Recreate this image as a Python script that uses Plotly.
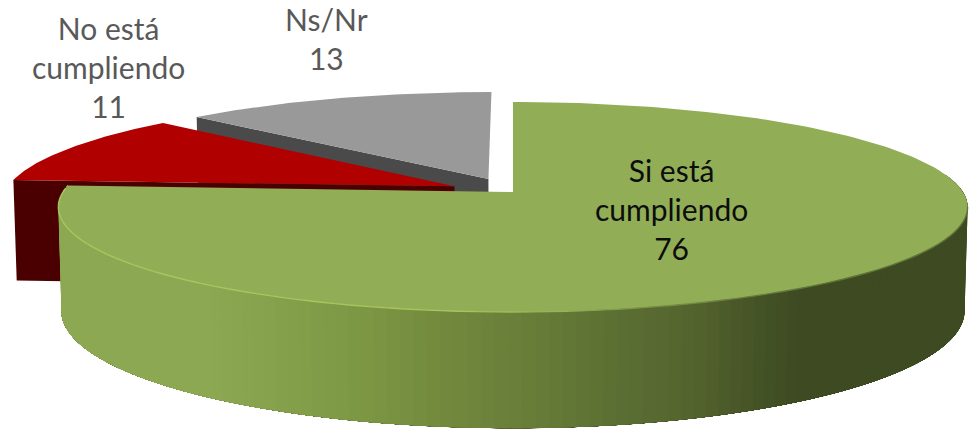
"""Pie 3D "cumpliendo": Plotly has no 3D pie, so the slices are drawn as filled
scatter polygons on hidden pixel axes, with the angles taken from the values."""

import numpy as np
import plotly.graph_objects as go

categories = ["Si está<br>cumpliendo", "No está<br>cumpliendo", "Ns/Nr"]
values = [76, 11, 13]

WIDTH, HEIGHT = 976, 432

# Perspective of the pie plane
CX = 513
CY_TOP, RY_TOP, RX_TOP = 192, 102.86, 450
CY_BOT, RY_BOT, RX_BOT = 294, 115, 447
PERSP = 1 / 7
EXPLODE = [0, 0.143, 0.14]

TOP_COLORS = ["#91AE57", "#B00000", "#999999"]
SIDE_COLORS = [None, "#4A0000", "#4A4A4A"]

# Wall gradient of the big slice: (x pixel, r, g, b)
WALL_STOPS = [
    (50, 141, 168, 82),
    (220, 141, 168, 82),
    (350, 127, 154, 70),
    (450, 115, 138, 62),
    (540, 104, 125, 56),
    (620, 92, 112, 52),
    (700, 84, 100, 46),
    (770, 68, 82, 38),
    (810, 62, 74, 34),
    (980, 62, 74, 34),
]
RIM_STOPS = [
    (50, 168, 198, 96),
    (450, 168, 198, 96),
    (560, 150, 180, 88),
    (640, 124, 148, 72),
    (800, 96, 116, 56),
    (980, 96, 116, 56),
]


def ring(deg, explode_deg, explode, bottom=False):
    """Pixel position of a rim point; deg runs clockwise from the top."""
    a = np.radians(deg)
    m = np.radians(explode_deg)
    u = np.sin(a) + explode * np.sin(m)
    v = np.cos(a) + explode * np.cos(m)
    s = 1 / (1 + PERSP * v)
    if bottom:
        return CX + RX_BOT * u * s, CY_BOT - RY_BOT * v * s
    return CX + RX_TOP * u * s, CY_TOP - RY_TOP * v * s


def ramp(stops, x):
    xs = [p[0] for p in stops]
    rgb = [int(np.interp(x, xs, [p[i] for p in stops])) for i in (1, 2, 3)]
    return "rgb(%d,%d,%d)" % tuple(rgb)


def polygon(fig, xs, ys, color):
    fig.add_trace(go.Scatter(
        x=xs, y=ys,
        mode="lines",
        fill="toself",
        fillcolor=color,
        line=dict(color=color, width=0),
        hoverinfo="skip",
        showlegend=False,
    ))


fig = go.Figure()

total = sum(values)
edges = np.cumsum([0] + values) / total * 360

# Exploded slices first (grey, then red), the big slice goes over them
for i in (2, 1):
    start, end = edges[i], edges[i + 1]
    mid = (start + end) / 2
    # tip is the pie centre pushed out along the slice middle
    a = np.radians(mid)
    u0, v0 = EXPLODE[i] * np.sin(a), EXPLODE[i] * np.cos(a)
    s0 = 1 / (1 + PERSP * v0)
    tip_x, tip_y = CX + RX_TOP * u0 * s0, CY_TOP - RY_TOP * v0 * s0
    tip_bx, tip_by = CX + RX_BOT * u0 * s0, CY_BOT - RY_BOT * v0 * s0

    # cut face seen by the camera
    ox, oy = ring(start, mid, EXPLODE[i])
    bx, by = ring(start, mid, EXPLODE[i], bottom=True)
    polygon(fig, [tip_x, ox, bx, tip_bx, tip_x], [tip_y, oy, by, tip_by, tip_y], SIDE_COLORS[i])

    # top face
    arc = np.linspace(start, end, 60)
    px, py = ring(arc, mid, EXPLODE[i])
    polygon(fig, [tip_x, *px, tip_x], [tip_y, *py, tip_y], TOP_COLORS[i])

# Big slice: wall in bands painted over each other (right to left side),
# each band reaches to the wall end so no seams show between them
green_end = edges[1]
bands = np.arange(80, green_end, 1.5)
for d0 in bands:
    arc = np.linspace(d0, green_end, 40)
    x0, y0 = ring(arc, 0, 0)
    x1, y1 = ring(arc[::-1], 0, 0, bottom=True)
    polygon(fig, [*x0, *x1, x0[0]], [*y0, *y1, y0[0]], ramp(WALL_STOPS, x0[0]))

# Big slice: top face
arc = np.linspace(edges[0], green_end, 200)
px, py = ring(arc, 0, 0)
polygon(fig, [CX, *px, CX], [CY_TOP, *py, CY_TOP], TOP_COLORS[0])

# Bevel along the front edge of the top face
rim = np.arange(98, green_end + 0.01, 2)
for d0, d1 in zip(rim[:-1], rim[1:]):
    xs, ys = ring(np.array([d0, d1]), 0, 0)
    fig.add_trace(go.Scatter(
        x=xs, y=ys,
        mode="lines",
        line=dict(color=ramp(RIM_STOPS, xs.mean()), width=1.4),
        hoverinfo="skip",
        showlegend=False,
    ))

# Labels
label_pos = [(671, 209), (108, 67), (326, 38)]
label_colors = ["#0D0D0D", "#595959", "#595959"]
for name, val, (lx, ly), col in zip(categories, values, label_pos, label_colors):
    fig.add_annotation(
        x=lx, y=ly,
        text=f"{name}<br>{val}",
        showarrow=False,
        xanchor="center", yanchor="middle",
        font=dict(family="Lato", size=30, color=col),
    )

fig.update_layout(
    width=WIDTH,
    height=HEIGHT,
    margin=dict(l=0, r=0, t=0, b=0),
    paper_bgcolor="white",
    plot_bgcolor="white",
    showlegend=False,
    xaxis=dict(range=[0, WIDTH], visible=False, fixedrange=True),
    yaxis=dict(range=[HEIGHT, 0], visible=False, fixedrange=True),
)

# default page margin of the body would push the 976x432 figure off the window
fig.write_html(
    "out.html",
    config=dict(displayModeBar=False),
    post_script="document.body.style.margin='0';",
)
